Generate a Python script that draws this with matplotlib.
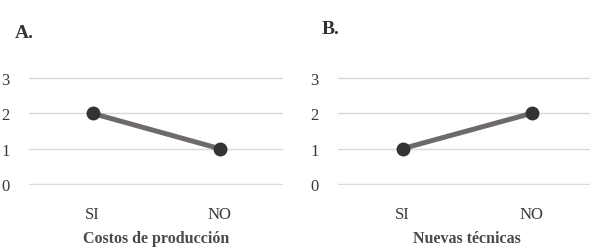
import numpy as np
import matplotlib
matplotlib.use('Agg')
import matplotlib.pyplot as plt

plt.rcParams['font.family'] = ['Liberation Serif', 'DejaVu Serif']

CATEGORIES = ['SI', 'NO']
VALUES_A = [2, 1]
VALUES_B = [1, 2]
PANEL_TITLES = ['A.', 'B.']
XLABELS = ['Costos de producción', 'Nuevas técnicas']

W, H = 590, 253
fig = plt.figure(figsize=(W / 100.0, H / 100.0), dpi=100)

# axes boxes in pixels: left, top-of-grid (y=3), width, bottom (y=0)
boxes = [(29, 78, 254, 186), (338, 78, 258, 186)]
title_pos = [(15, 33), (322, 29)]

for i, vals in enumerate([VALUES_A, VALUES_B]):
    left, top, width, bottom = boxes[i]
    ax = fig.add_axes([left / W, (H - bottom) / H, width / W, (bottom - top) / H])
    x = np.arange(len(CATEGORIES))
    ax.plot(x, vals, color='#6e6a6a', lw=3.6, solid_capstyle='butt', zorder=3)
    ax.plot(x, vals, 'o', color='#333333', ms=9, zorder=4)
    ax.set_xlim(-0.5, 1.5)
    ax.set_ylim(-0.03, 3.03)
    ax.set_yticks([0, 1, 2, 3])
    ax.set_xticks(x)
    ax.set_xticklabels(CATEGORIES)
    ax.grid(axis='y', color='#d9d9d9', lw=1)
    ax.set_axisbelow(True)
    for s in ax.spines.values():
        s.set_visible(False)
    ax.tick_params(length=0, labelsize=12, colors='#3a3a3a')
    ax.tick_params(axis='y', pad=14)
    ax.tick_params(axis='x', pad=15)
    ax.set_xlabel(XLABELS[i], fontsize=11.5, fontweight='bold', color='#4a4a4a', labelpad=6)
    tx, ty = title_pos[i]
    fig.text(tx / W, 1 - ty / H, PANEL_TITLES[i], fontsize=14, fontweight='bold',
             color='#333333', va='center', ha='left')

fig.savefig('out.png', dpi=100)
